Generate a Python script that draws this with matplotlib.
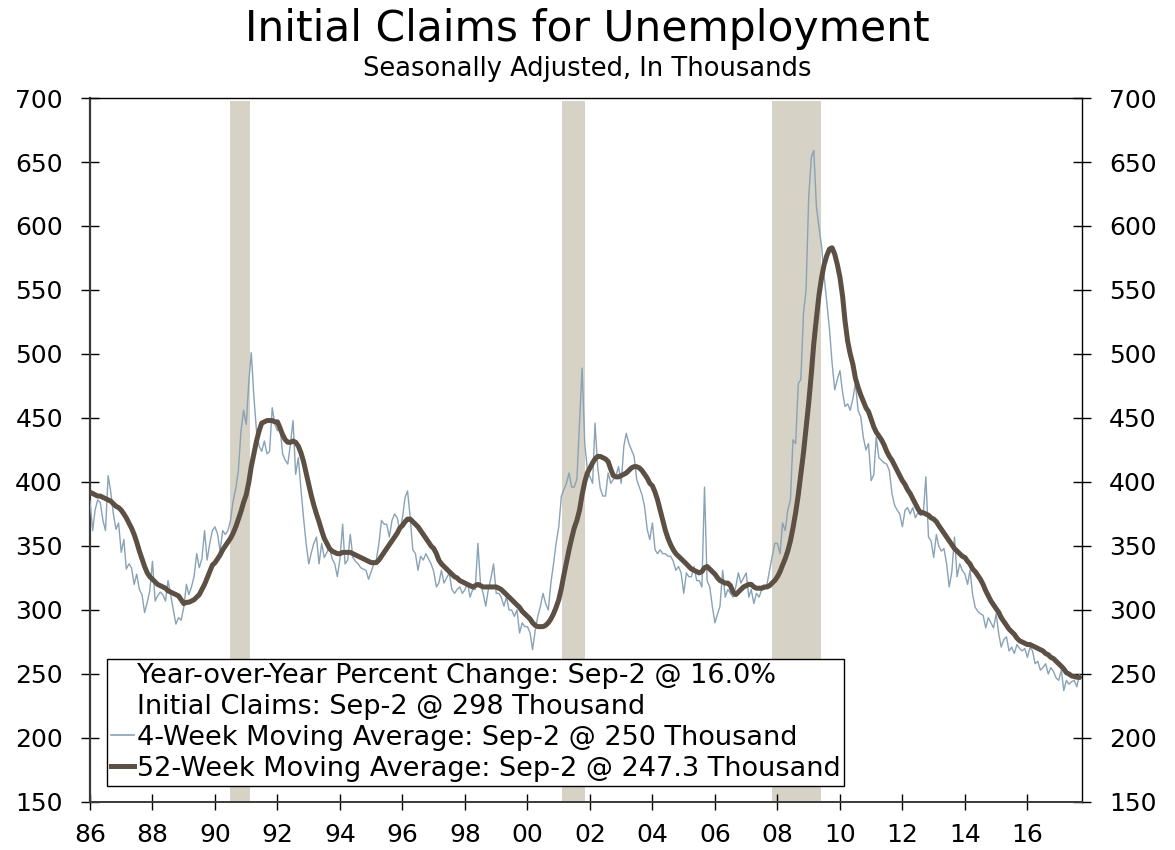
import matplotlib
matplotlib.use("Agg")
import matplotlib.pyplot as plt
import matplotlib.dates as mdates
from matplotlib.lines import Line2D
import pandas as pd

# Initial claims, 4-week moving average, monthly readings (thousands)
claims_4wk = [
    385, 362, 378, 386, 384, 370, 362, 405, 392, 375, 363, 368,  # 1986
    345, 355, 332, 336, 333, 320, 328, 316, 312, 298, 306, 315,  # 1987
    338, 307, 311, 314, 312, 307, 323, 312, 300, 289, 294, 292,  # 1988
    302, 320, 312, 318, 326, 344, 333, 340, 362, 339, 352, 362,  # 1989
    365, 359, 346, 362, 359, 362, 370, 385, 395, 409, 440, 456,  # 1990
    445, 479, 501, 466, 440, 428, 424, 432, 422, 424, 458, 445,  # 1991
    440, 443, 422, 417, 414, 430, 448, 406, 419, 395, 372, 352,  # 1992
    336, 345, 352, 357, 336, 352, 341, 345, 349, 340, 336, 326,  # 1993
    340, 367, 336, 339, 359, 341, 338, 336, 333, 332, 331, 324,  # 1994
    330, 336, 339, 352, 370, 367, 367, 357, 370, 375, 372, 362,  # 1995
    372, 388, 393, 372, 347, 344, 331, 342, 339, 344, 340, 336,  # 1996
    330, 318, 321, 331, 321, 325, 329, 316, 313, 316, 318, 313,  # 1997
    316, 321, 310, 316, 316, 352, 321, 313, 303, 316, 325, 336,  # 1998
    313, 313, 310, 303, 310, 300, 300, 295, 300, 282, 290, 287,  # 1999
    287, 282, 269, 284, 295, 303, 313, 305, 300, 321, 336, 352,  # 2000
    365, 389, 394, 399, 407, 396, 396, 402, 446, 489, 430, 410,  # 2001
    404, 399, 446, 412, 395, 389, 389, 407, 399, 402, 405, 412,  # 2002
    399, 428, 438, 430, 425, 420, 402, 396, 390, 381, 363, 355,  # 2003
    368, 347, 344, 347, 344, 344, 342, 342, 338, 331, 334, 329,  # 2004
    313, 329, 326, 326, 334, 323, 323, 318, 396, 323, 318, 303,  # 2005
    290, 297, 303, 331, 310, 316, 313, 310, 318, 329, 321, 325,  # 2006
    329, 310, 316, 305, 313, 310, 316, 316, 320, 331, 342, 352,  # 2007
    352, 344, 368, 362, 378, 386, 433, 430, 477, 480, 532, 550,  # 2008
    623, 654, 659, 615, 599, 584, 560, 540, 519, 493, 472, 480,  # 2009
    487, 470, 459, 461, 456, 465, 477, 456, 451, 435, 425, 430,  # 2010
    401, 406, 435, 419, 417, 415, 414, 409, 391, 382, 378, 375,  # 2011
    365, 378, 380, 375, 380, 372, 376, 374, 375, 404, 357, 354,  # 2012
    341, 359, 350, 346, 348, 336, 318, 330, 357, 326, 336, 331,  # 2013
    328, 320, 331, 312, 302, 299, 297, 296, 286, 294, 290, 286,  # 2014
    297, 281, 271, 277, 279, 268, 271, 266, 273, 270, 268, 270,  # 2015
    263, 271, 268, 258, 260, 253, 255, 258, 250, 255, 252, 247,  # 2016
    245, 253, 237, 245, 242, 244, 245, 240, 250,                 # 2017
]

# 52-week moving average, same dates
claims_52wk = [
    392, 391, 390, 389, 389, 388, 387, 386, 385, 383, 381, 380,  # 1986
    378, 375, 372, 368, 364, 359, 353, 346, 340, 334, 329, 326,  # 1987
    324, 322, 320, 319, 318, 317, 315, 314, 313, 312, 311, 308,  # 1988
    305, 306, 306, 307, 308, 310, 312, 316, 320, 325, 330, 335,  # 1989
    337, 340, 343, 347, 350, 353, 356, 360, 365, 371, 377, 384,  # 1990
    390, 400, 412, 422, 432, 440, 446, 447, 448, 448, 448, 447,  # 1991
    447, 442, 437, 433, 431, 431, 432, 431, 428, 423, 416, 407,  # 1992
    398, 389, 382, 375, 369, 362, 356, 352, 348, 346, 345, 344,  # 1993
    344, 345, 345, 345, 345, 344, 343, 342, 341, 340, 339, 338,  # 1994
    337, 337, 337, 339, 342, 345, 348, 351, 354, 357, 360, 364,  # 1995
    366, 369, 371, 371, 369, 367, 365, 362, 359, 356, 353, 350,  # 1996
    348, 344, 339, 336, 334, 332, 330, 328, 326, 325, 323, 322,  # 1997
    321, 320, 319, 318, 319, 320, 319, 318, 318, 318, 318, 318,  # 1998
    318, 317, 316, 314, 312, 310, 308, 306, 304, 302, 299, 297,  # 1999
    295, 293, 290, 288, 287, 287, 287, 288, 290, 293, 297, 302,  # 2000
    308, 317, 327, 337, 347, 356, 364, 370, 378, 390, 400, 407,  # 2001
    411, 415, 418, 420, 420, 419, 418, 416, 410, 405, 404, 404,  # 2002
    405, 406, 407, 409, 411, 412, 412, 411, 409, 406, 403, 399,  # 2003
    397, 392, 386, 378, 370, 362, 356, 351, 347, 344, 342, 340,  # 2004
    338, 336, 334, 332, 331, 330, 329, 330, 333, 334, 332, 330,  # 2005
    328, 325, 323, 322, 321, 321, 319, 314, 312, 314, 316, 318,  # 2006
    319, 320, 320, 318, 317, 317, 317, 318, 318, 319, 321, 323,  # 2007
    326, 330, 335, 340, 346, 354, 364, 376, 390, 406, 423, 442,  # 2008
    462, 485, 508, 528, 546, 560, 570, 577, 582, 583, 578, 570,  # 2009
    560, 545, 526, 510, 500, 492, 481, 474, 468, 463, 458, 455,  # 2010
    449, 443, 439, 436, 433, 429, 424, 420, 417, 413, 409, 405,  # 2011
    401, 398, 394, 391, 387, 383, 379, 376, 376, 375, 374, 372,  # 2012
    371, 369, 366, 363, 360, 357, 354, 351, 348, 346, 344, 342,  # 2013
    341, 338, 336, 332, 330, 327, 324, 320, 315, 311, 307, 304,  # 2014
    301, 298, 294, 291, 288, 285, 283, 281, 278, 276, 275, 274,  # 2015
    273, 273, 272, 271, 270, 269, 268, 266, 265, 263, 262, 260,  # 2016
    258, 256, 254, 251, 250, 248.5, 248, 247.5, 247.3,           # 2017
]

recessions = [("1990-07-01", "1991-02-20"),
              ("2001-02-10", "2001-11-01"),
              ("2007-10-25", "2009-05-20")]

legend_labels = [
    "Year-over-Year Percent Change: Sep-2 @ 16.0%",
    "Initial Claims: Sep-2 @ 298 Thousand",
    "4-Week Moving Average: Sep-2 @ 250 Thousand",
    "52-Week Moving Average: Sep-2 @ 247.3 Thousand",
]

dates = list(pd.date_range("1986-01-01", "2017-08-01", freq="MS")) + [pd.Timestamp("2017-09-02")]

THIN = "#88a2b6"
THICK = "#5c4f43"
SHADE = "#d6d2c5"

plt.rcParams["font.family"] = ["DejaVu Sans"]

fig = plt.figure(figsize=(11.75, 8.5), dpi=100)
ax = fig.add_axes([0.0766, 0.0565, 0.8443, 0.8282])

for start, end in recessions:
    ax.axvspan(pd.Timestamp(start), pd.Timestamp(end), ymin=0, ymax=0.996,
               color=SHADE, lw=0, zorder=1)

ax.plot(dates, claims_4wk, color=THIN, lw=1.0, zorder=3)
ax.plot(dates, claims_52wk, color=THICK, lw=3.6, zorder=4,
        solid_joinstyle="round", solid_capstyle="round")

ax.set_ylim(150, 700)
ax.set_yticks(range(150, 701, 50))
ax.set_xlim(pd.Timestamp("1986-01-01"), pd.Timestamp("2017-10-01"))
ax.xaxis.set_major_locator(mdates.YearLocator(2))
ax.xaxis.set_major_formatter(mdates.DateFormatter("%y"))

ax.tick_params(axis="y", which="both", direction="inout", length=13, width=1,
               labelsize=18, pad=13, right=True, labelright=True)
ax.tick_params(axis="x", direction="inout", length=12, width=1,
               labelsize=18, pad=9)

ax.spines["left"].set_color("#3a3a3a")
ax.spines["left"].set_linewidth(1.6)
ax.spines["bottom"].set_color("#3a3a3a")
ax.spines["bottom"].set_linewidth(1.4)
ax.spines["top"].set_linewidth(1.0)
ax.spines["right"].set_linewidth(1.0)

handles = [Line2D([], [], color="none"),
           Line2D([], [], color="none"),
           Line2D([], [], color=THIN, lw=1.2),
           Line2D([], [], color=THICK, lw=3.6)]
leg = ax.legend(handles, legend_labels, loc="lower left",
                bbox_to_anchor=(0.017, 0.023), borderaxespad=0,
                fontsize=19.5, frameon=True, fancybox=False, framealpha=1,
                edgecolor="black", handlelength=0.85, handletextpad=0.1,
                labelspacing=0.18, borderpad=0.15)
leg.get_frame().set_linewidth(1.0)
leg.set_zorder(10)

fig.text(0.4995, 0.966, "Initial Claims for Unemployment", ha="center",
         va="center", fontsize=30.5)
fig.text(0.4995, 0.919, "Seasonally Adjusted, In Thousands", ha="center",
         va="center", fontsize=18.5)

fig.savefig("out.png", dpi=100)
